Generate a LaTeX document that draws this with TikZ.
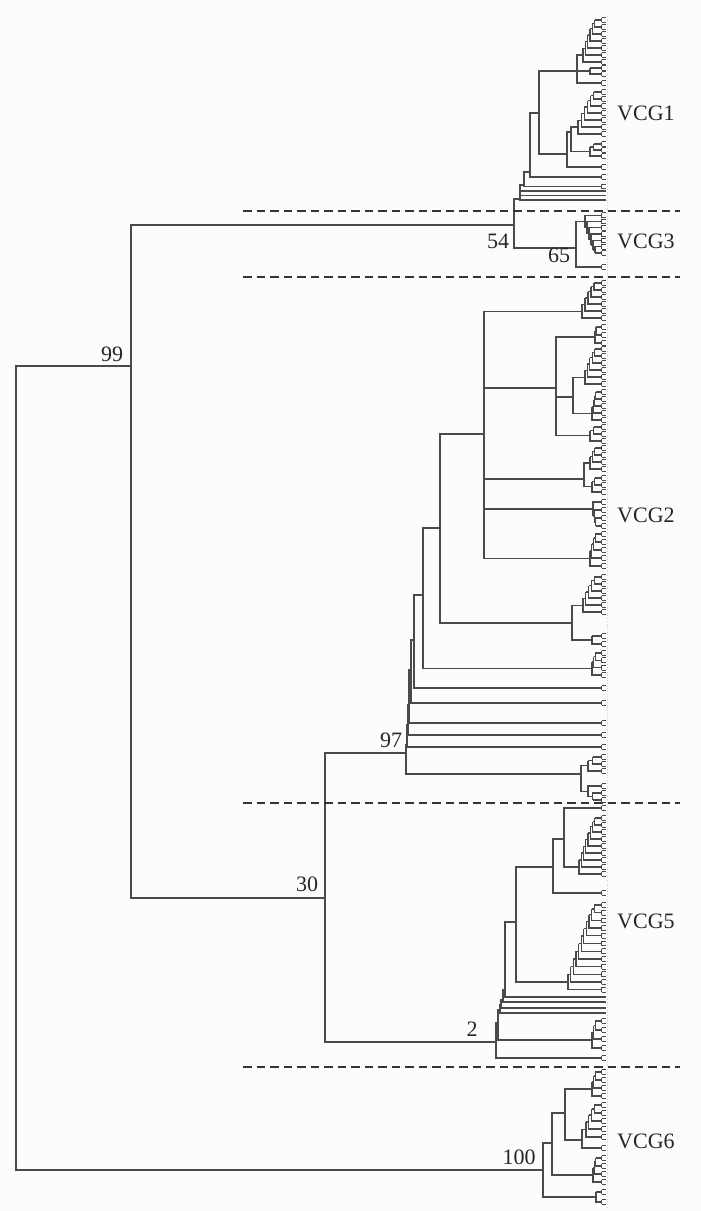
\documentclass[tikz,border=0pt]{standalone}
\usepackage{fontspec}
\setmainfont{Liberation Serif}
\definecolor{treegray}{HTML}{4A4A4A}
\definecolor{bgc}{HTML}{FCFCFC}
\tikzset{
  tree/.style={draw=treegray,line width=1.3pt},
  sepline/.style={draw=black!80,line width=2pt,dash pattern=on 8.5pt off 5pt},
  lab/.style={font=\fontsize{22}{22}\selectfont,inner sep=0pt,text=black!85},
}
% tiny leaf fork at the tips
\newcommand\fk[1]{\draw[tree,line width=1pt] (601.5,#1-2.4) -- (601.5,#1+2.4) (601.5,#1-2.4) -- (605.5,#1-2.4) (601.5,#1+2.4) -- (605.5,#1+2.4);}
% leaf with fork from parent node #1 at height #2
\newcommand\lf[2]{\draw[tree] (#1) |- (601.5,#2); \fk{#2}}
% plain leaf from parent node #1 at height #2
\newcommand\stl[2]{\draw[tree] (#1) |- (606,#2);}
% edge parent -> child
\newcommand\ed[2]{\draw[tree] (#1) |- (#2);}
% caterpillar clade: name, x0, first leaf y, n leaves, signed spacing
\newcommand\ladder[5]{%
  \pgfmathsetmacro\ldx{(597-#2)/max(#4-1,1)}%
  \xdef\lacc{#3}%
  \foreach \j in {2,...,#4}{%
    \pgfmathsetmacro\yj{#3+(\j-1)*(#5)}%
    \pgfmathsetmacro\xj{#2+(#4-\j)*\ldx}%
    \pgfmathsetmacro\xp{#2+(#4-\j+1)*\ldx}%
    \ifnum\j=2\relax
      \draw[tree] (\xj,\lacc) -- (601.5,\lacc); \fk{\lacc}%
    \else
      \draw[tree] (\xj,\lacc) -- (\xp,\lacc);%
    \fi
    \draw[tree] (\xj,\lacc) -- (\xj,\yj) -- (601.5,\yj); \fk{\yj}%
    \pgfmathsetmacro\tmp{(\lacc+\yj)/2}\xdef\lacc{\tmp}%
  }%
  \coordinate (#1) at (#2,\lacc);%
}
\begin{document}
\begin{tikzpicture}[x=1pt,y=-1pt]
\fill[bgc] (0,0) rectangle (701,1211);
\useasboundingbox (0,0) rectangle (701,1211);
% leaf label strip
\draw[gray!35,dotted,line width=0.7pt] (607.5,16) -- (607.5,1207);

% ---------- backbone ----------
\coordinate (R) at (16,768);
\coordinate (N99) at (131,366);
\coordinate (N100) at (543,1170);
\coordinate (N54) at (514,225);
\coordinate (N30) at (325,898);
\ed{R}{N99} \ed{R}{N100}
\ed{N99}{N54} \ed{N99}{N30}

% ---------- VCG1 ----------
\coordinate (V1) at (520,199);
\coordinate (V1c) at (524,185);
\coordinate (V1d) at (530,172);
\coordinate (V1e) at (539,113);
\coordinate (V1f) at (577,71);
\coordinate (V1g) at (567,154);
\coordinate (V1h) at (571,132);
\coordinate (N65) at (576,248);
\ed{N54}{V1} \ed{N54}{N65}
\stl{V1}{200} \stl{V1}{195.5} \stl{V1}{191}
\ed{V1}{V1c}
\lf{V1c}{186.5} \ed{V1c}{V1d}
\lf{V1d}{177} \ed{V1d}{V1e}
\ed{V1e}{V1f} \ed{V1e}{V1g}
\ladder{L1a}{583}{20}{7}{7}
\ladder{L1a2}{590}{68}{2}{6}
\ed{V1f}{L1a} \ed{V1f}{L1a2} \lf{V1f}{83}
\ed{V1g}{V1h} \lf{V1g}{167}
\ladder{L1b}{578}{92}{7}{7}
\ladder{L1c}{590}{144}{3}{6}
\ed{V1h}{L1b} \ed{V1h}{L1c}

% ---------- VCG3 ----------
\ladder{L3a}{585}{253}{7}{-6.3}
\ed{N65}{L3a} \lf{N65}{267}

% ---------- VCG2 ----------
\coordinate (N97) at (406,753);
\coordinate (N2) at (496,1042);
\ed{N30}{N97} \ed{N30}{N2}
\coordinate (S7) at (407,745);
\coordinate (S6) at (408,725);
\coordinate (S5) at (409,705);
\coordinate (S4) at (411,670);
\coordinate (S3) at (414,640);
\coordinate (S2) at (423,595);
\coordinate (N440) at (440,528);
\coordinate (N484) at (484,434);
\coordinate (N556) at (556,388);
\coordinate (N573) at (573,397);
\coordinate (C774) at (581,774);
\coordinate (C623) at (572,623);
\coordinate (C479) at (584,479);
\ed{N97}{S7} \ed{N97}{C774}
\ladder{L774a}{588}{757}{3}{7}
\ladder{L774b}{588}{800}{3}{-7}
\ed{C774}{L774a} \ed{C774}{L774b}
\lf{S7}{747} \ed{S7}{S6}
\lf{S6}{735} \ed{S6}{S5}
\lf{S5}{723} \ed{S5}{S4}
\lf{S4}{703} \ed{S4}{S3}
\lf{S3}{688} \ed{S3}{S2}
\ladder{C662}{592}{653}{4}{7.3}
\ed{S2}{N440} \ed{S2}{C662}
\ed{N440}{N484} \ed{N440}{C623}
\ladder{L623a}{583}{577}{6}{7}
\ladder{L623b}{592}{636}{2}{8}
\ed{C623}{L623a} \ed{C623}{L623b}
\ladder{C308}{582}{283}{6}{7}
\ladder{L479a}{590}{448}{4}{7}
\ladder{L479b}{592}{478}{3}{7}
\ed{C479}{L479a} \ed{C479}{L479b}
\ladder{C513}{593}{526}{4}{-8}
\ladder{C558}{590}{534}{5}{8}
\ed{N484}{C308} \ed{N484}{N556} \ed{N484}{C479} \ed{N484}{C513} \ed{N484}{C558}
\ladder{C337}{595}{327}{3}{8}
\ladder{C439}{590}{427}{3}{7}
\ed{N556}{C337} \ed{N556}{N573} \ed{N556}{C439}
\ladder{C378}{585}{349}{6}{7}
\ladder{C415}{592}{392}{5}{7}
\ed{N573}{C378} \ed{N573}{C415}

% ---------- VCG5 ----------
\coordinate (T1) at (498,1023);
\coordinate (T2) at (500,1010);
\coordinate (T3) at (501,1005);
\coordinate (T4) at (503,1000);
\coordinate (T5) at (505,990);
\coordinate (N516) at (516,922);
\coordinate (N553) at (553,867);
\coordinate (N564) at (564,839);
\ed{N2}{T1} \lf{N2}{1058}
\ladder{C1038}{592}{1021}{4}{9}
\ed{T1}{T2} \ed{T1}{C1038}
\stl{T2}{1013} \ed{T2}{T3}
\stl{T3}{1008} \ed{T3}{T4}
\stl{T4}{1002} \ed{T4}{T5}
\stl{T5}{997} \ed{T5}{N516}
\ladder{C977}{568}{905}{12}{7.7}
\ed{N516}{N553} \ed{N516}{C977}
\ed{N553}{N564} \lf{N553}{893}
\ladder{L870}{579}{818}{9}{7}
\lf{N564}{808} \ed{N564}{L870}

% ---------- VCG6 ----------
\coordinate (U1) at (552,1143);
\coordinate (U2) at (565,1113);
\coordinate (U3) at (582,1140);
\ladder{L1197}{596}{1192}{2}{10}
\ed{N100}{U1} \ed{N100}{L1197}
\ladder{L1170}{593}{1158}{4}{8}
\ed{U1}{U2} \ed{U1}{L1170}
\ladder{L1087}{592}{1072}{4}{8}
\ed{U2}{L1087} \ed{U2}{U3}
\ladder{L1120}{586}{1105}{5}{8}
\ed{U3}{L1120} \lf{U3}{1148}

% ---------- group separators ----------
\coordinate (d1a) at (243,211); \coordinate (d1b) at (680,211);
\coordinate (d2a) at (243,277); \coordinate (d2b) at (680,277);
\coordinate (d3a) at (243,803); \coordinate (d3b) at (680,803);
\coordinate (d4a) at (243,1067); \coordinate (d4b) at (680,1067);
\draw[sepline] (d1a) -- (d1b);
\draw[sepline] (d2a) -- (d2b);
\draw[sepline] (d3a) -- (d3b);
\draw[sepline] (d4a) -- (d4b);

% ---------- labels ----------
\node[lab] (b99) at (112,354) {99};
\node[lab] (b54) at (498,241) {54};
\node[lab] (b65) at (559,255) {65};
\node[lab] (b97) at (391,740) {97};
\node[lab] (b30) at (307,884) {30};
\node[lab] (b2) at (472,1029) {2};
\node[lab] (b100) at (519,1157) {100};
\node[lab,anchor=west] (g1) at (617,113) {VCG1};
\node[lab,anchor=west] (g3) at (617,241) {VCG3};
\node[lab,anchor=west] (g2) at (617,515) {VCG2};
\node[lab,anchor=west] (g5) at (617,921) {VCG5};
\node[lab,anchor=west] (g6) at (617,1141) {VCG6};
\end{tikzpicture}
\end{document}
